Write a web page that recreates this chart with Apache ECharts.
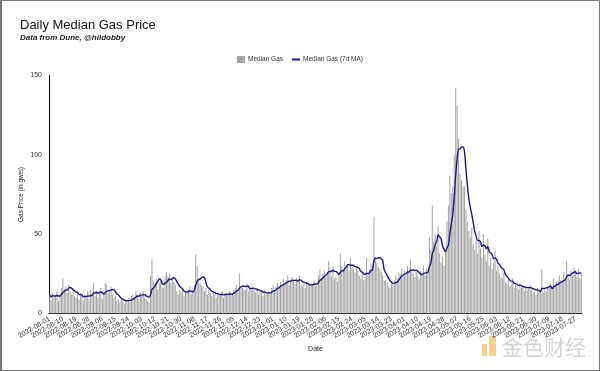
<!DOCTYPE html>
<html>
<head>
<meta charset="utf-8">
<script src="https://cdn.jsdelivr.net/npm/echarts@6/dist/echarts.min.js"></script>
<style>
html,body{margin:0;padding:0;background:#fff;}
#chart{width:600px;height:371px;}
#frame{position:absolute;left:0;top:0;width:600px;height:371px;box-sizing:border-box;border:1px solid #777;border-left-width:2px;pointer-events:none;}
</style>
</head>
<body>
<div id="chart"></div>
<div id="frame"></div>
<script>
// Category range: daily dates
const startDate = '2022-08-01';
const dayCount = 365;
const labelEvery = 9;

// Daily median gas price (gwei), 10 values per row
const medianGas = [
  12, 9, 13, 10, 11, 14, 8, 12, 16, 22,
  15, 17, 13, 18, 14, 12, 16, 11, 10, 12,
  9, 13, 11, 8, 12, 10, 14, 9, 15, 12,
  19, 11, 14, 10, 13, 16, 9, 12, 19, 18,
  13, 15, 17, 12, 10, 11, 8, 9, 7, 10,
  8, 6, 9, 7, 10, 8, 11, 12, 10, 14,
  12, 9, 13, 11, 14, 10, 9, 8, 7, 24,
  34, 20, 18, 22, 15, 19, 21, 17, 16, 24,
  26, 23, 25, 19, 22, 20, 18, 14, 12, 15,
  13, 16, 11, 14, 13, 15, 17, 12, 14, 18,
  37, 30, 22, 19, 18, 17, 14, 16, 12, 15,
  13, 11, 14, 12, 10, 13, 11, 12, 14, 10,
  13, 12, 11, 14, 12, 13, 15, 16, 18, 14,
  25, 16, 16, 15, 15, 19, 14, 16, 15, 17,
  15, 13, 16, 12, 14, 13, 11, 15, 12, 13,
  14, 12, 16, 18, 15, 17, 19, 16, 20, 18,
  22, 19, 21, 24, 18, 20, 23, 21, 19, 22,
  20, 24, 18, 17, 19, 16, 20, 18, 17, 19,
  18, 21, 17, 20, 24, 28, 22, 25, 27, 23,
  26, 33, 29, 23, 30, 22, 23, 20, 26, 38,
  30, 28, 33, 29, 31, 27, 35, 30, 28, 26,
  29, 27, 24, 22, 26, 21, 23, 35, 25, 28,
  31, 30, 61, 35, 32, 29, 28, 26, 24, 21,
  21, 20, 17, 16, 20, 18, 21, 24, 22, 26,
  25, 28, 23, 27, 24, 30, 26, 34, 27, 25,
  23, 26, 24, 22, 27, 25, 30, 24, 28, 26,
  48, 40, 68, 45, 50, 42, 55, 38, 32, 36,
  30, 40, 58, 68, 87, 76, 80, 100, 142, 131,
  110, 88, 84, 80, 80, 66, 58, 52, 48, 54,
  44, 40, 46, 38, 52, 41, 35, 50, 37, 33,
  47, 30, 35, 28, 32, 40, 27, 30, 25, 23,
  22, 26, 20, 19, 21, 17, 18, 22, 16, 18,
  17, 15, 19, 16, 18, 14, 17, 15, 16, 18,
  15, 13, 14, 12, 16, 13, 14, 28, 13, 15,
  14, 17, 16, 19, 15, 22, 18, 20, 17, 24,
  21, 19, 26, 22, 33, 25, 21, 27, 24, 29,
  26, 23, 28, 22, 25
];

const yTicks = [0, 50, 100, 150];
const maWindow = 7;

// Build categories
const dates = [];
{
  const d0 = new Date(startDate + 'T00:00:00Z');
  for (let i = 0; i < dayCount; i++) {
    const d = new Date(d0.getTime() + i * 86400000);
    dates.push(d.toISOString().slice(0, 10));
  }
}
// 7-day trailing moving average of the bars (as defined by the series name)
const ma7 = medianGas.map((v, i) => {
  const s = Math.max(0, i - maWindow + 1);
  const win = medianGas.slice(s, i + 1);
  return +(win.reduce((a, b) => a + b, 0) / win.length).toFixed(2);
});

const FONT = '"Liberation Sans", Arial, sans-serif';
const NAVY = '#1a1a8a';
// every 9th date is labelled; labels are split over two stacked copies of the
// same category axis so that ECharts' first/last-label overlap pruning never drops one
const lastLabelIdx = Math.floor((dayCount - 1) / labelEvery) * labelEvery;
const isTick = (i) => i % labelEvery === 0;
const secondSet = (i) => i === labelEvery || i === lastLabelIdx - labelEvery;
const labelsA = (i) => isTick(i) && !secondSet(i);
const labelsB = (i) => secondSet(i);
const labelStyle = {rotate: 30, fontSize: 7, color: '#333', fontFamily: FONT, margin: 5};

const chart = echarts.init(document.getElementById('chart'), null, {renderer: 'canvas'});
chart.setOption({
  animation: false,
  backgroundColor: '#ffffff',
  textStyle: {fontFamily: FONT},
  title: [{
    text: 'Daily Median Gas Price',
    left: 15, top: 14,
    textStyle: {fontFamily: FONT, fontSize: 13, fontWeight: 'normal', color: '#111'}
  }, {
    text: 'Data from Dune, @hildobby',
    left: 15, top: 29,
    textStyle: {fontFamily: FONT, fontSize: 8, fontStyle: 'italic', fontWeight: 'bold', color: '#222'}
  }],
  legend: {
    top: 51, left: 'center',
    itemWidth: 8, itemHeight: 7, itemGap: 9,
    textStyle: {fontFamily: FONT, fontSize: 6.5, color: '#333', padding: [0, 0, 0, -2]},
    data: [
      {name: 'Median Gas', icon: 'rect'},
      {name: 'Median Gas (7d MA)', icon: 'path://M0,0H20V5H0Z'}
    ]
  },
  grid: {left: 49, right: 18, top: 75.5, bottom: 57.5},
  xAxis: [{
    type: 'category',
    data: dates,
    position: 'bottom',
    name: 'Date',
    nameLocation: 'middle',
    nameGap: 32,
    nameTextStyle: {fontFamily: FONT, fontSize: 7, color: '#222'},
    axisLine: {lineStyle: {color: '#000', width: 1}},
    axisTick: {interval: isTick, alignWithLabel: true, length: 3, lineStyle: {color: '#000'}},
    axisLabel: Object.assign({interval: labelsA}, labelStyle),
    splitLine: {show: false}
  }, {
    type: 'category',
    data: dates,
    position: 'bottom',
    offset: 0,
    axisLine: {show: false},
    axisTick: {show: false},
    axisLabel: Object.assign({interval: labelsB}, labelStyle),
    splitLine: {show: false}
  }],
  yAxis: {
    type: 'value',
    min: yTicks[0], max: yTicks[yTicks.length - 1], interval: 50,
    name: 'Gas Price (in gwei)',
    nameLocation: 'middle',
    nameGap: 24,
    nameMoveOverlap: false,
    nameTextStyle: {fontFamily: FONT, fontSize: 6.5, color: '#222'},
    axisLine: {show: true, lineStyle: {color: '#000', width: 1}},
    axisTick: {show: false},
    axisLabel: {fontSize: 7, color: '#333', fontFamily: FONT, margin: 7},
    splitLine: {show: false}
  },
  series: [{
    name: 'Median Gas',
    type: 'bar',
    xAxisIndex: 0,
    data: medianGas,
    barCategoryGap: '35%',
    itemStyle: {color: '#a3a3a3'},
    z: 2
  }, {
    name: 'Median Gas (7d MA)',
    type: 'line',
    xAxisIndex: 0,
    data: ma7,
    showSymbol: false,
    symbol: 'none',
    smooth: 0.3,
    lineStyle: {color: NAVY, width: 1.4},
    itemStyle: {color: NAVY},
    z: 3
  }],
  graphic: [{
    type: 'group', left: 482, top: 336, silent: true,
    children: [
      {type: 'rect', shape: {x: 0, y: 8, width: 5, height: 12}, style: {fill: 'rgba(240,170,40,0.55)'}},
      {type: 'rect', shape: {x: 7, y: 0, width: 7, height: 20}, style: {fill: 'rgba(240,170,40,0.55)'}},
      {type: 'text', style: {x: 20, y: 1, text: '金色财经', fontSize: 21, fontFamily: '"Noto Sans CJK SC", sans-serif', fill: 'rgba(160,160,160,0.45)'}}
    ]
  }]
});
</script>
</body>
</html>
